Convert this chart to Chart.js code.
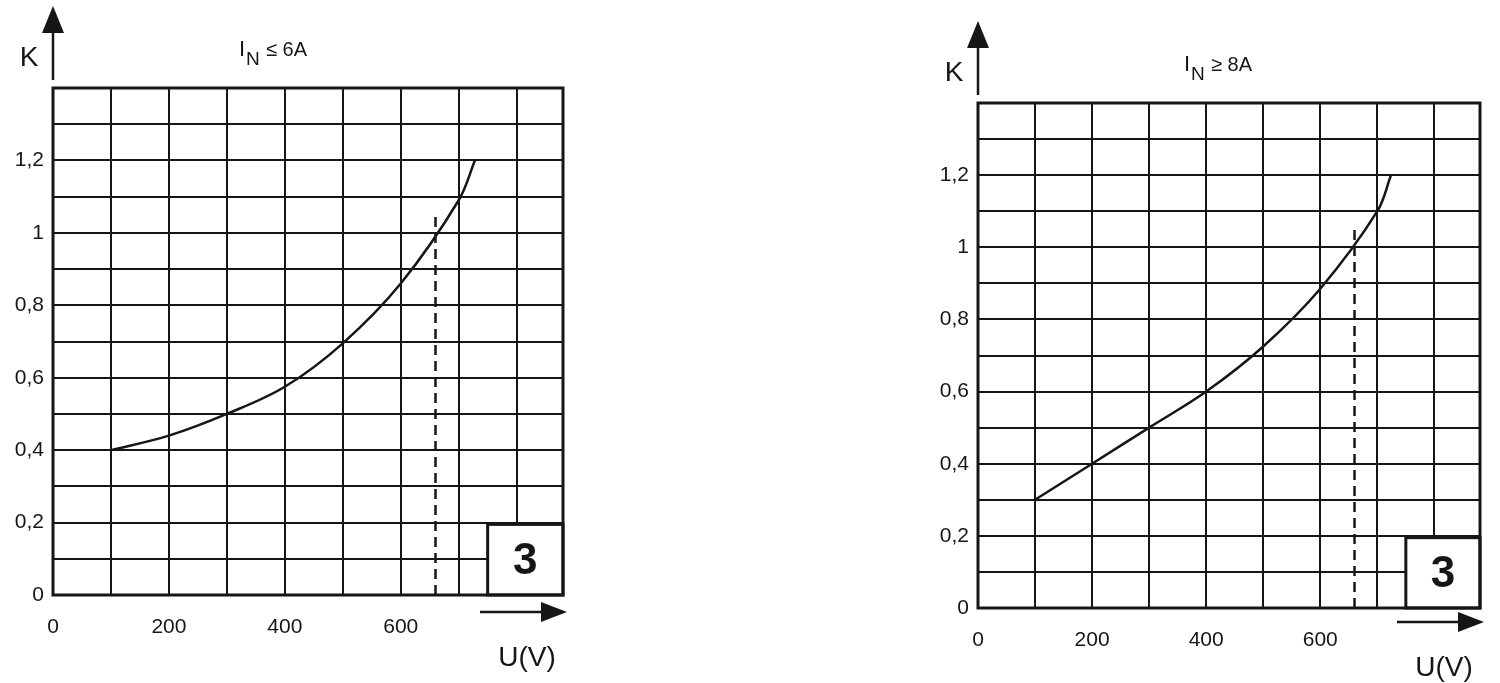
<!DOCTYPE html>
<html>
<head>
<meta charset="utf-8">
<script src="https://cdn.jsdelivr.net/npm/chart.js@4/dist/chart.umd.min.js"></script>
<style>
  body { margin: 0; background: #fff; }
  .wrap { position: absolute; top: 0; width: 750px; height: 683px; }
  canvas { display: block; }
</style>
</head>
<body>
<div class="wrap" style="left:0"><canvas id="c1" width="750" height="683"></canvas></div>
<div class="wrap" style="left:750px"><canvas id="c2" width="750" height="683"></canvas></div>
<script>
// valeurs
const uGauche = [100, 200, 300, 400, 500, 600, 700, 728];
const kGauche = [0.40, 0.44, 0.50, 0.575, 0.695, 0.86, 1.09, 1.2];
const uDroite = [100, 200, 300, 400, 500, 600, 700, 724];
const kDroite = [0.30, 0.40, 0.50, 0.60, 0.725, 0.885, 1.1, 1.2];
const uRepere = 660;
const kRepereGauche = 1.05;
const kRepereDroite = 1.06;
const xGrille = [0, 100, 200, 300, 400, 500, 600, 700, 800, 880];
const xLabels = [0, 200, 400, 600];
const yLabels = [0, 0.2, 0.4, 0.6, 0.8, 1, 1.2];
const cadre = { x0: 750, x1: 880, y0: 0, y1: 0.195, texte: '3' };

const FONT = '"Liberation Sans", Arial, sans-serif';
const INK = '#161616';

function pts(xs, ys) { return xs.map((x, i) => ({ x, y: ys[i] })); }

const decor = {
  id: 'decor',
  afterDatasetsDraw(chart, args, o) {
    const { ctx, chartArea: a, scales: { x, y } } = chart;
    ctx.save();
    // cadre "3"
    const bx = x.getPixelForValue(cadre.x0), by = y.getPixelForValue(cadre.y1);
    const bw = a.right - bx, bh = a.bottom - by;
    ctx.fillStyle = '#fff';
    ctx.fillRect(bx, by, bw, bh);
    ctx.strokeStyle = INK; ctx.lineWidth = 3;
    ctx.strokeRect(bx, by, bw, bh);
    ctx.fillStyle = INK;
    ctx.font = 'bold 44px ' + FONT;
    ctx.textAlign = 'center'; ctx.textBaseline = 'middle';
    ctx.fillText(cadre.texte, bx + bw / 2, by + bh / 2 + 2);
    // bordure
    ctx.lineWidth = 3;
    ctx.strokeRect(a.left, a.top, a.right - a.left, a.bottom - a.top);
    // fleche K
    ctx.lineWidth = 2.5;
    ctx.beginPath(); ctx.moveTo(a.left, a.top - 8); ctx.lineTo(a.left, a.top - 60); ctx.stroke();
    ctx.beginPath();
    ctx.moveTo(a.left, a.top - 82); ctx.lineTo(a.left - 11, a.top - 55); ctx.lineTo(a.left + 11, a.top - 55);
    ctx.closePath(); ctx.fill();
    ctx.font = '28px ' + FONT;
    ctx.textBaseline = 'alphabetic';
    ctx.fillText('K', a.left - 24, a.top - 22);
    // fleche U
    const ay = a.bottom + o.dy;
    ctx.beginPath(); ctx.moveTo(a.right - 83, ay); ctx.lineTo(a.right - 20, ay); ctx.stroke();
    ctx.beginPath();
    ctx.moveTo(a.right + 4, ay); ctx.lineTo(a.right - 22, ay - 10); ctx.lineTo(a.right - 22, ay + 10);
    ctx.closePath(); ctx.fill();
    ctx.fillText('U(V)', a.right - 36, a.bottom + o.dy + 54);
    // titre
    const tx = a.left + o.tx, ty = a.top - 32;
    ctx.textAlign = 'left';
    ctx.font = '22px ' + FONT;
    ctx.fillText('I', tx, ty);
    ctx.font = '19px ' + FONT;
    ctx.fillText('N', tx + 7, ty + 9);
    ctx.font = '20px ' + FONT;
    ctx.fillText(o.titre, tx + 27, ty);
    ctx.restore();
  }
};

function graphe(id, xs, ys, kRep, pad, opts) {
  return new Chart(document.getElementById(id), {
    type: 'line',
    data: {
      datasets: [
        { data: pts(xs, ys), borderColor: INK, borderWidth: 2.5, pointRadius: 0, tension: 0.35 },
        { data: [{ x: uRepere, y: 0 }, { x: uRepere, y: kRep }], borderColor: INK,
          borderWidth: 2.5, borderDash: [10, 6], pointRadius: 0 }
      ]
    },
    options: {
      responsive: false, animation: false,
      layout: { padding: pad },
      plugins: { legend: { display: false }, tooltip: { enabled: false }, decor: opts },
      scales: {
        x: {
          type: 'linear', min: 0, max: 880,
          afterFit: s => { s.height = 50; },
          afterBuildTicks: s => { s.ticks = xGrille.map(v => ({ value: v })); },
          grid: { color: INK, lineWidth: 2, drawTicks: false },
          border: { display: false },
          ticks: {
            padding: 20, color: INK, font: { family: FONT, size: 21 },
            callback: v => xLabels.includes(v) ? String(v) : ''
          }
        },
        y: {
          min: 0, max: 1.4,
          afterFit: s => { s.width = 45; },
          grid: { color: INK, lineWidth: 2, drawTicks: false },
          border: { display: false },
          ticks: {
            stepSize: 0.1, padding: 9, color: INK, font: { family: FONT, size: 21 },
            callback: v => {
              const r = Math.round(v * 10) / 10;
              return yLabels.includes(r) ? String(r).replace('.', ',') : '';
            }
          }
        }
      }
    },
    plugins: [decor]
  });
}

graphe('c1', uGauche, kGauche, kRepereGauche,
  { left: 8, top: 88, right: 187, bottom: 38 }, { dy: 17, tx: 186, titre: '≤ 6A' });
graphe('c2', uDroite, kDroite, kRepereDroite,
  { left: 183, top: 103, right: 12, bottom: 25 }, { dy: 14, tx: 206, titre: '≥ 8A' });
</script>
</body>
</html>
